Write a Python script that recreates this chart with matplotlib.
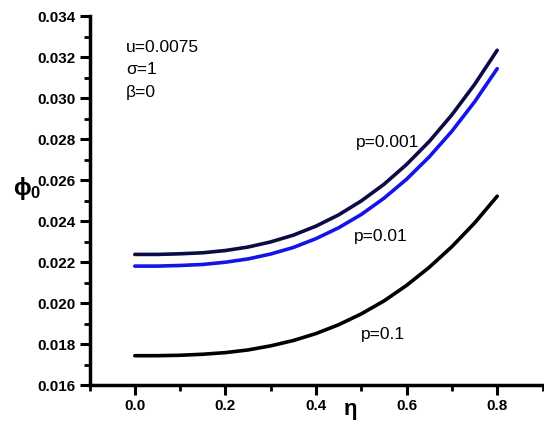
import matplotlib
matplotlib.use("Agg")
import matplotlib.pyplot as plt
from matplotlib.ticker import MultipleLocator

plt.rcParams['font.family'] = ['Liberation Sans', 'DejaVu Sans']
plt.rcParams['mathtext.fontset'] = 'custom'
plt.rcParams['mathtext.rm'] = 'Liberation Sans:bold'
plt.rcParams['mathtext.it'] = 'Liberation Sans:bold'
plt.rcParams['mathtext.bf'] = 'Liberation Sans:bold'

eta = [0.0, 0.05, 0.1, 0.15, 0.2, 0.25, 0.3, 0.35, 0.4, 0.45, 0.5,
       0.55, 0.6, 0.65, 0.7, 0.75, 0.8]
phi_p0001 = [0.02237, 0.02237, 0.02240, 0.02245, 0.02256, 0.02273, 0.02298,
             0.02331, 0.02375, 0.02430, 0.02498, 0.02579, 0.02676, 0.02788,
             0.02918, 0.03066, 0.03233]
phi_p001 = [0.02180, 0.02180, 0.02183, 0.02188, 0.02199, 0.02215, 0.02239,
            0.02271, 0.02314, 0.02367, 0.02432, 0.02511, 0.02604, 0.02713,
            0.02838, 0.02981, 0.03143]
phi_p01 = [0.01743, 0.01743, 0.01745, 0.01750, 0.01758, 0.01771, 0.01791,
           0.01817, 0.01851, 0.01894, 0.01947, 0.02010, 0.02086, 0.02174,
           0.02275, 0.02390, 0.02521]

W, H = 544, 425
fig = plt.figure(figsize=(W / 100, H / 100), dpi=100)
ax = fig.add_axes([89.5 / W, 1 - 385 / H, (542.5 - 89.5) / W, (385 - 16) / H])

ax.plot(eta, phi_p0001, color='#0b0b45', lw=2.6, solid_capstyle='round')
ax.plot(eta, phi_p001, color='#1414e6', lw=2.6, solid_capstyle='round')
ax.plot(eta, phi_p01, color='#000000', lw=2.6, solid_capstyle='round')

ax.set_xlim(-0.1, 0.9)
ax.set_ylim(0.016, 0.034)
ax.xaxis.set_minor_locator(MultipleLocator(0.1))
ax.yaxis.set_major_locator(MultipleLocator(0.002))
ax.yaxis.set_minor_locator(MultipleLocator(0.001))
ax.set_xticks([0.0, 0.2, 0.4, 0.6, 0.8])
ax.set_xticklabels(['0.0', '0.2', '0.4', '0.6', '0.8'])
ax.yaxis.set_major_formatter(matplotlib.ticker.FormatStrFormatter('%.3f'))

for s in ['top', 'right']:
    ax.spines[s].set_visible(False)
for s in ['left', 'bottom']:
    ax.spines[s].set_linewidth(2.5)

ax.tick_params(which='major', direction='out', length=7, width=2.2,
               labelsize=11, pad=3)
ax.tick_params(which='minor', direction='out', length=4, width=2.0)
for lab in ax.get_xticklabels() + ax.get_yticklabels():
    lab.set_fontweight('bold')


def px(x, y):
    return x / W, 1 - y / H


fig.text(*px(27, 188), r'$\phi_0$', fontsize=17, ha='center', va='center')
fig.text(*px(350, 411), r'$\eta$', fontsize=16, ha='center', va='center')

for txt, yy in [('u=0.0075', 48), ('σ=1', 70), ('β=0', 92)]:
    fig.text(*px(126, yy), txt, fontsize=12.5, ha='left', va='center')

fig.text(*px(388, 142), 'p=0.001', fontsize=12.5, ha='center', va='center')
fig.text(*px(381, 237), 'p=0.01', fontsize=12.5, ha='center', va='center')
fig.text(*px(383, 334), 'p=0.1', fontsize=12.5, ha='center', va='center')

fig.savefig('out.png', dpi=100)
